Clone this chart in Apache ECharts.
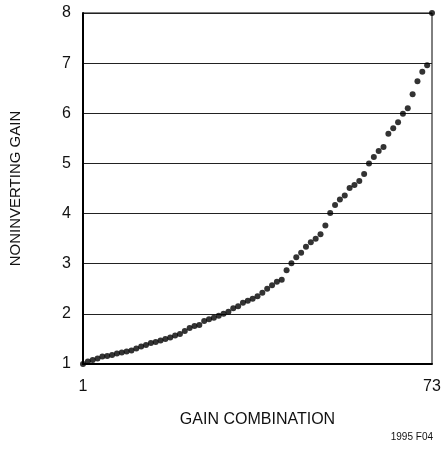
<!DOCTYPE html>
<html>
<head>
<meta charset="utf-8">
<script src="https://cdn.jsdelivr.net/npm/echarts@6/dist/echarts.min.js"></script>
<style>
  html, body { margin: 0; padding: 0; background: #fff; }
  #chart { width: 444px; height: 449px; }
</style>
</head>
<body>
<div id="chart"></div>
<script>
// gain combination index 1..73
const gainValues = [
  1.00, 1.05, 1.08, 1.11, 1.15, 1.16, 1.18, 1.21, 1.23, 1.25,
  1.27, 1.31, 1.35, 1.38, 1.42, 1.44, 1.47, 1.50, 1.53, 1.57,
  1.60, 1.66, 1.72, 1.76, 1.78, 1.86, 1.89, 1.92, 1.96, 2.00,
  2.04, 2.11, 2.15, 2.22, 2.26, 2.30, 2.35, 2.42, 2.50, 2.57,
  2.64, 2.68, 2.87, 3.01, 3.13, 3.22, 3.34, 3.43, 3.50, 3.59,
  3.76, 4.01, 4.17, 4.28, 4.36, 4.51, 4.57, 4.65, 4.79, 5.00,
  5.13, 5.25, 5.33, 5.59, 5.70, 5.82, 5.99, 6.10, 6.38, 6.64,
  6.83, 6.96, 8.00
]
const xTickLabels = [1, 73]
const yMin = 1
const yMax = 8

const font = "'Liberation Sans Narrow', 'Liberation Sans', Arial, sans-serif"

const points = gainValues.map((v, i) => [i + 1, v])

const chart = echarts.init(document.getElementById('chart'))
chart.setOption({
  backgroundColor: '#fff',
  animation: false,
  grid: {
    left: 82,
    right: 12,
    top: 13,
    bottom: 85,
    show: true,
    borderColor: '#000',
    borderWidth: 1
  },
  xAxis: {
    type: 'value',
    min: 1,
    max: 73,
    name: 'GAIN COMBINATION',
    nameLocation: 'middle',
    nameGap: 48,
    nameTextStyle: { color: '#111', fontSize: 16, fontFamily: font },
    axisLine: { show: true, onZero: false, lineStyle: { color: '#000', width: 2 } },
    axisTick: { show: false },
    splitLine: { show: false },
    axisLabel: {
      customValues: xTickLabels,
      color: '#111',
      fontSize: 16,
      fontFamily: font,
      margin: 15
    }
  },
  yAxis: {
    type: 'value',
    min: yMin,
    max: yMax,
    interval: 1,
    name: 'NONINVERTING GAIN',
    nameLocation: 'middle',
    nameGap: 60,
    nameTextStyle: { color: '#111', fontSize: 15, fontFamily: font },
    axisLine: { show: true, onZero: false, lineStyle: { color: '#000', width: 2 } },
    axisTick: { show: false },
    splitLine: { show: true, lineStyle: { color: '#222', width: 1 } },
    axisLabel: { color: '#111', fontSize: 16, fontFamily: font, margin: 12 }
  },
  series: [{
    type: 'scatter',
    data: points,
    symbol: 'circle',
    symbolSize: 6,
    clip: false,
    itemStyle: { color: '#000' }
  }],
  graphic: [{
    type: 'text',
    right: 11,
    bottom: 7,
    style: { text: '1995 F04', fill: '#111', fontSize: 10, fontFamily: font }
  }]
})
</script>
</body>
</html>
